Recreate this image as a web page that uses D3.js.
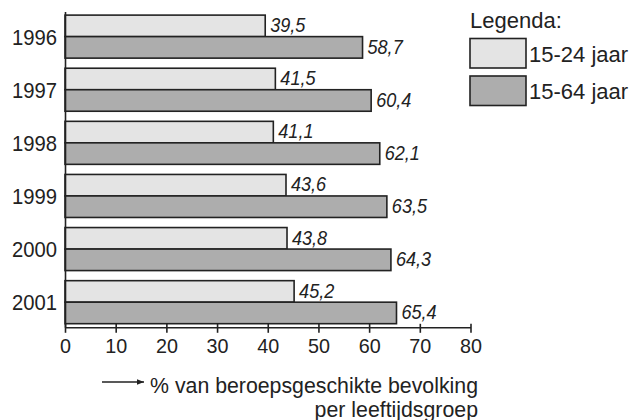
<!DOCTYPE html>
<html>
<head>
<meta charset="utf-8">
<script src="https://cdn.jsdelivr.net/npm/d3@7"></script>
<style>
  body { margin: 0; background: #fff; }
  svg text { font-family: "Liberation Sans", Arial, sans-serif; fill: #222; }
</style>
</head>
<body>
<div id="chart"></div>
<script>
// chart data
const years = ["1996", "1997", "1998", "1999", "2000", "2001"];
const seriesNames = ["15-24 jaar", "15-64 jaar"];
const young = [39.5, 41.5, 41.1, 43.6, 43.8, 45.2];
const total = [58.7, 60.4, 62.1, 63.5, 64.3, 65.4];
const xTicks = [0, 10, 20, 30, 40, 50, 60, 70, 80];
const axisTitle = ["% van beroepsgeschikte bevolking", "per leeftijdsgroep"];
const legendTitle = "Legenda:";

const width = 632;
const height = 420;
const colors = ["#e4e4e4", "#adadad"];

const svg = d3.select("#chart").append("svg")
    .attr("width", width)
    .attr("height", height);

// squeeze text horizontally, the original font is a bit narrow
function squeeze(sel, f) {
    sel.each(function() {
        const w = this.getComputedTextLength();
        d3.select(this).attr("textLength", w * f).attr("lengthAdjust", "spacingAndGlyphs");
    });
}

// scales
const x = d3.scaleLinear().domain([0, 80]).range([65, 470.5]);
const y = d3.scaleBand().domain(years).range([11.5, 327.3])
    .paddingInner(0.19).paddingOuter(0.068);
const ySub = d3.scaleBand().domain([0, 1]).range([0, y.bandwidth()]);

// rows: one per year, two bars each
const rows = years.map((yr, i) => ({ year: yr, values: [young[i], total[i]] }));

const group = svg.append("g").selectAll("g")
    .data(rows)
    .join("g")
    .attr("transform", d => `translate(0,${y(d.year)})`);

group.selectAll("rect")
    .data(d => d.values.map((v, k) => ({ v, k })))
    .join("rect")
    .attr("x", x(0))
    .attr("y", d => ySub(d.k))
    .attr("width", d => x(d.v) - x(0))
    .attr("height", ySub.bandwidth())
    .attr("fill", d => colors[d.k])
    .attr("stroke", "#222")
    .attr("stroke-width", 1.6);

// value labels (narrow italic)
group.selectAll("text.val")
    .data(d => d.values.map((v, k) => ({ v, k })))
    .join("text")
    .attr("class", "val")
    .attr("x", d => x(d.v) + 5)
    .attr("y", d => ySub(d.k) + ySub.bandwidth() - 4.5)
    .style("font-size", "21px")
    .style("font-style", "italic")
    .text(d => d.v.toFixed(1).replace(".", ","))
    .call(squeeze, 0.86);

// y axis
const yAxis = svg.append("g")
    .attr("transform", `translate(${x(0)},0)`)
    .call(d3.axisLeft(y).tickSize(0).tickSizeOuter(0).tickPadding(8));
yAxis.select(".domain").attr("stroke", "#222").attr("stroke-width", 1.6);
yAxis.selectAll("text")
    .style("font-size", "22px")
    .attr("fill", "#222")
    .attr("dy", "0.36em")
    .call(squeeze, 0.92);

// x axis
const xAxis = svg.append("g")
    .attr("transform", `translate(0,${y.range()[1]})`)
    .call(d3.axisBottom(x).tickValues(xTicks).tickSize(6).tickSizeOuter(0));
xAxis.select(".domain").attr("stroke", "#222").attr("stroke-width", 1.6);
xAxis.selectAll(".tick line")
    .attr("y1", -3.5)
    .attr("y2", 5.5)
    .attr("stroke", "#222")
    .attr("stroke-width", 1.6);
xAxis.selectAll(".tick text")
    .attr("y", 26)
    .attr("dy", 0)
    .attr("fill", "#222")
    .style("font-size", "21px")
    .call(squeeze, 0.94);

// axis title with arrow
svg.append("defs").append("marker")
    .attr("id", "arrow")
    .attr("viewBox", "0 0 10 10")
    .attr("refX", 10).attr("refY", 5)
    .attr("markerWidth", 7).attr("markerHeight", 7)
    .attr("markerUnits", "userSpaceOnUse")
    .attr("orient", "auto")
    .append("path")
    .attr("d", "M0,1L10,5L0,9Z")
    .attr("fill", "#222");

svg.append("line")
    .attr("x1", 102).attr("x2", 144)
    .attr("y1", 382).attr("y2", 382)
    .attr("stroke", "#222")
    .attr("stroke-width", 1.3)
    .attr("marker-end", "url(#arrow)");

svg.selectAll("text.title")
    .data(axisTitle)
    .join("text")
    .attr("class", "title")
    .attr("x", 478)
    .attr("y", (d, i) => 393 + i * 23.5)
    .attr("text-anchor", "end")
    .style("font-size", "21.3px")
    .text(d => d);

// legend
const legend = svg.append("g").attr("transform", "translate(470,0)");
legend.append("text")
    .attr("x", 0).attr("y", 28)
    .style("font-size", "22px")
    .text(legendTitle);

const item = legend.selectAll("g")
    .data(seriesNames)
    .join("g")
    .attr("transform", (d, i) => `translate(0,${38.5 + i * 37.5})`);
item.append("rect")
    .attr("width", 56).attr("height", 29.5)
    .attr("fill", (d, i) => colors[i])
    .attr("stroke", "#222")
    .attr("stroke-width", 1.6);
item.append("text")
    .attr("x", 59).attr("y", 23)
    .style("font-size", "22px")
    .text(d => d);
</script>
</body>
</html>
